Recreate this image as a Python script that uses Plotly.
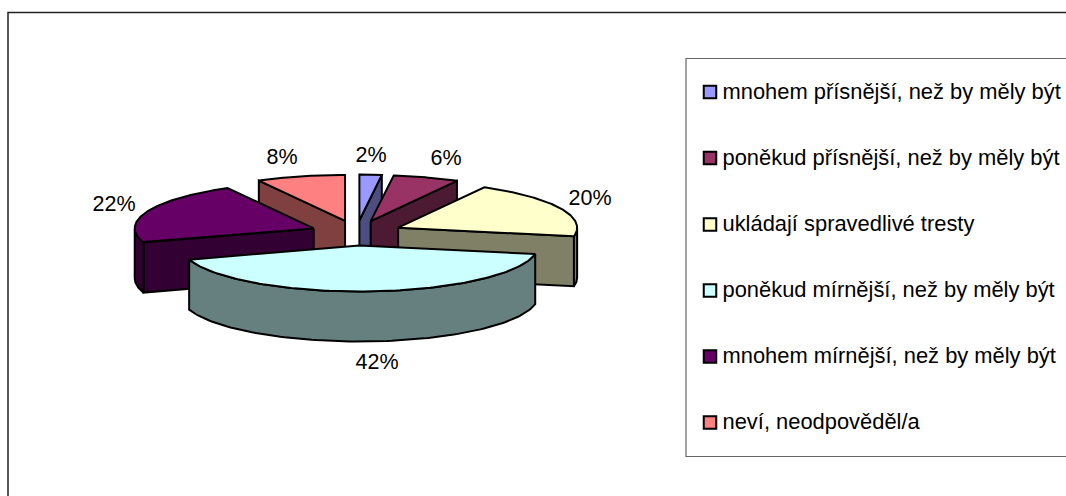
import numpy as np
import plotly.graph_objects as go

categories = ["mnohem přísnější, než by měly být", "poněkud přísnější, než by měly být",
              "ukládají spravedlivé tresty", "poněkud mírnější, než by měly být",
              "mnohem mírnější, než by měly být", "neví, neodpověděl/a"]
values = [2, 6, 20, 42, 22, 8]
top_colors = ["#9999FF", "#993366", "#FFFFCC", "#CCFFFF", "#660066", "#FF8080"]
side_colors = ["#4D4D80", "#4D1A33", "#808066", "#668080", "#330033", "#804040"]
draw_order = [5, 0, 1, 2, 4, 3]

# projection of the exploded pie on the page (pixels)
CX, CY, RX, RY, EX, EY, DEPTH = 356.5, 233, 179, 46, 46, 12.5, 50
LINE = 2
FONT = "Liberation Sans, Arial, sans-serif"
label_xy = [(371, 157), (446, 160), (590, 200), (377, 364), (114, 206), (282, 159)]
legend_y = [92, 158, 224.5, 290.5, 356.5, 422.5]
legend_text_y = [93.5, 159.5, 226, 292, 358, 424]

fig = go.Figure()


def poly(xs, ys, fill):
    fig.add_trace(go.Scatter(x=list(xs) + [xs[0]], y=list(ys) + [ys[0]], mode="lines", fill="toself",
                             fillcolor=fill, line=dict(color="black", width=LINE, shape="linear"),
                             hoverinfo="skip", showlegend=False))


total = sum(values)
cum = np.concatenate([[0], np.cumsum(values)]) / total * 2 * np.pi
for i in draw_order:
    a0, a1 = cum[i], cum[i + 1]
    mid = (a0 + a1) / 2
    vx, vy = CX + EX * np.sin(mid), CY - EY * np.cos(mid)
    px = lambda a: vx + RX * np.sin(a)
    py = lambda a: vy - RY * np.cos(a)
    # radial faces that look towards the viewer
    for a, normal in ((a0, a0 - np.pi / 2), (a1, a1 + np.pi / 2)):
        if -np.cos(normal) > 0:
            poly([vx, px(a), px(a), vx], [vy, py(a), py(a) + DEPTH, vy + DEPTH], side_colors[i])
    # outer wall: only the part on the front half of the ellipse
    lo, hi = max(a0, np.pi / 2), min(a1, 3 * np.pi / 2)
    if hi > lo:
        t = np.linspace(lo, hi, 100)
        poly(np.r_[px(t), px(t[::-1])], np.r_[py(t), py(t[::-1]) + DEPTH], side_colors[i])
    # top face
    t = np.linspace(a0, a1, 120)
    poly(np.r_[vx, px(t)], np.r_[vy, py(t)], top_colors[i])

fig.add_trace(go.Scatter(x=[p[0] for p in label_xy], y=[p[1] for p in label_xy], mode="text",
                         text=[f"{v}%" for v in values], textposition="middle center",
                         textfont=dict(family=FONT, size=21.5, color="black"),
                         hoverinfo="skip", showlegend=False))

fig.add_shape(type="rect", x0=8, y0=12.5, x1=1080, y1=510, line=dict(color="#222222", width=1.5), layer="below")
fig.add_shape(type="rect", x0=686, y0=58.5, x1=1080, y1=456.5, line=dict(color="#666666", width=1.2), layer="below")

fig.add_trace(go.Scatter(x=[710] * len(categories), y=legend_y, mode="markers",
                         marker=dict(symbol="square", size=12.5, color=top_colors, line=dict(color="black", width=2)),
                         hoverinfo="skip", showlegend=False))
fig.add_trace(go.Scatter(x=[722.5] * len(categories), y=legend_text_y, mode="text", text=categories,
                         textposition="middle right",
                         textfont=dict(family=FONT, size=21.9, color="black"),
                         hoverinfo="skip", showlegend=False))

fig.update_layout(width=1066, height=496, margin=dict(l=0, r=0, t=0, b=0), paper_bgcolor="white",
                  plot_bgcolor="white", showlegend=False,
                  xaxis=dict(range=[0, 1066], visible=False, fixedrange=True),
                  yaxis=dict(range=[496, 0], visible=False, fixedrange=True))
fig.write_html("out.html", config=dict(displayModeBar=False),
               post_script="document.body.style.margin='0';document.body.style.overflow='hidden';")
